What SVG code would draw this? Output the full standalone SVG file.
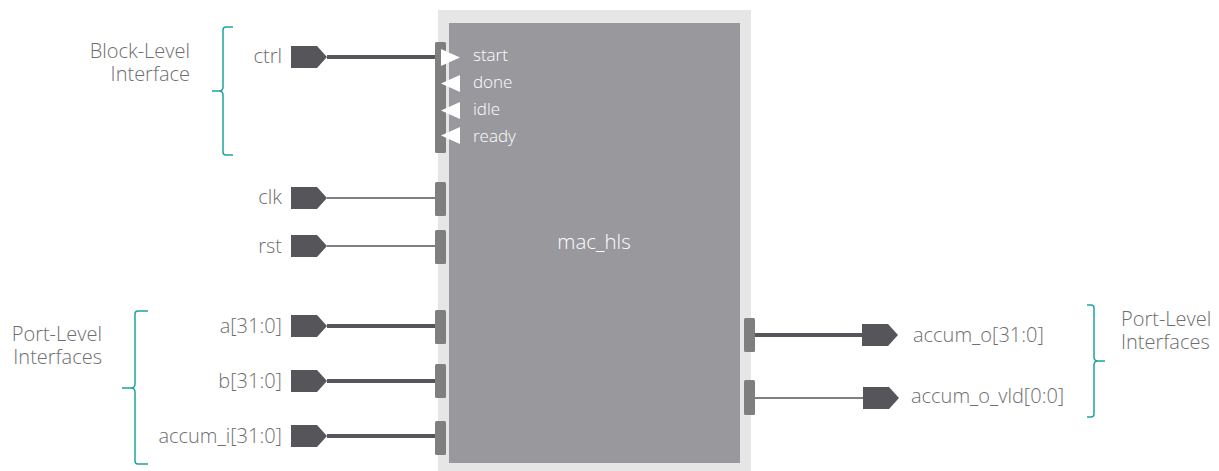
<svg xmlns="http://www.w3.org/2000/svg" width="1219" height="471" viewBox="0 0 1219 471">
<defs>
<style>
.lbl{font-family:"Open Sans","Liberation Sans",sans-serif;font-weight:300;font-size:20px;fill:#6e6e70}
.in{font-family:"Open Sans","Liberation Sans",sans-serif;font-weight:300;font-size:17px;fill:#ffffff}
.pin{fill:#56555a}
.bar{fill:#7f7f7f}
.thick{stroke:#56555a;stroke-width:4;fill:none}
.thin{stroke:#56555a;stroke-width:1.4;fill:none}
.br{stroke:#1fa39c;stroke-width:1.5;fill:none}
.tri{fill:#ffffff}
</style>
<path id="pinshape" d="M0,-11 H26 L36,0 L26,11 H0 Z"/>
</defs>
<rect width="1219" height="471" fill="#ffffff"/>
<g id="mac_hls">
<rect x="438" y="10" width="313" height="461" fill="#e6e6e6"/>
<rect x="449" y="23" width="291" height="440" fill="#99989d"/>
<text x="594" y="249" text-anchor="middle" style="font-family:'Open Sans','Liberation Sans',sans-serif;font-weight:300;font-size:20.5px;fill:#ffffff">mac_hls</text>
</g>
<g id="brackets">
<path class="br" d="M233,27 H226 Q223,27 223,30 V87 Q223,91 219,91 H212 M219,91 Q223,91 223,95 V152 Q223,155 226,155 H233"/>
<path class="br" d="M148,311 H138 Q135,311 135,314 V384 Q135,388 131,388 H122 M131,388 Q135,388 135,392 V461 Q135,464 138,464 H148"/>
<path class="br" d="M1087,305 H1091 Q1094,305 1094,308 V357 Q1094,361 1098,361 H1105 M1098,361 Q1094,361 1094,365 V414 Q1094,417 1091,417 H1087"/>
<text class="lbl" text-anchor="end"><tspan x="190" y="58">Block-Level</tspan><tspan x="190" y="81">Interface</tspan></text>
<text class="lbl" text-anchor="end"><tspan x="102" y="341">Port-Level</tspan><tspan x="102" y="364">Interfaces</tspan></text>
<text class="lbl"><tspan x="1121" y="326">Port-Level</tspan><tspan x="1121" y="349">Interfaces</tspan></text>
</g>
<g id="connectors">
<line class="thick" x1="327" y1="57" x2="436" y2="57"/>
<line class="thin" x1="327" y1="198" x2="436" y2="198"/>
<line class="thin" x1="327" y1="246" x2="436" y2="246"/>
<line class="thick" x1="327" y1="326" x2="436" y2="326"/>
<line class="thick" x1="327" y1="381" x2="436" y2="381"/>
<line class="thick" x1="327" y1="436" x2="436" y2="436"/>
<line class="thick" x1="754" y1="335" x2="863" y2="335"/>
<line class="thin" x1="754" y1="398" x2="864" y2="398"/>
</g>
<g id="ctrl">
<text class="lbl" x="282" y="63" text-anchor="end">ctrl</text>
<use href="#pinshape" class="pin" x="291" y="57"/>
<rect class="bar" x="435" y="42" width="11" height="111" rx="1.5"/>
<path class="tri" d="M441,49 L460,57.5 L441,66 Z"/>
<path class="tri" d="M460,75 L441,83.5 L460,92 Z"/>
<path class="tri" d="M460,102 L441,110.5 L460,119 Z"/>
<path class="tri" d="M460,127 L441,135.5 L460,144 Z"/>
<text class="in" x="473" y="61">start</text>
<text class="in" x="473" y="88">done</text>
<text class="in" x="473" y="115">idle</text>
<text class="in" x="473" y="142">ready</text>
</g>
<g id="clk">
<text class="lbl" x="282" y="204" text-anchor="end">clk</text>
<use href="#pinshape" class="pin" x="291" y="198"/>
<rect class="bar" x="435" y="182" width="11" height="34" rx="1.5"/>
</g>
<g id="rst">
<text class="lbl" x="282" y="253" text-anchor="end">rst</text>
<use href="#pinshape" class="pin" x="291" y="246"/>
<rect class="bar" x="435" y="230" width="11" height="34" rx="1.5"/>
</g>
<g id="a">
<text class="lbl" x="282" y="333" text-anchor="end">a[31:0]</text>
<use href="#pinshape" class="pin" x="291" y="326"/>
<rect class="bar" x="435" y="310" width="11" height="34" rx="1.5"/>
</g>
<g id="b">
<text class="lbl" x="282" y="388" text-anchor="end">b[31:0]</text>
<use href="#pinshape" class="pin" x="291" y="381"/>
<rect class="bar" x="435" y="364" width="11" height="34" rx="1.5"/>
</g>
<g id="accum_i">
<text class="lbl" x="282" y="443" text-anchor="end">accum_i[31:0]</text>
<use href="#pinshape" class="pin" x="291" y="436"/>
<rect class="bar" x="435" y="421" width="11" height="34" rx="1.5"/>
</g>
<g id="accum_o">
<rect class="bar" x="744" y="318" width="11" height="34" rx="1.5"/>
<use href="#pinshape" class="pin" x="862" y="335"/>
<text class="lbl" x="913" y="342">accum_o[31:0]</text>
</g>
<g id="accum_o_vld">
<rect class="bar" x="744" y="380" width="11" height="35" rx="1.5"/>
<use href="#pinshape" class="pin" x="863" y="398"/>
<text class="lbl" x="911" y="403">accum_o_vld[0:0]</text>
</g>
</svg>
